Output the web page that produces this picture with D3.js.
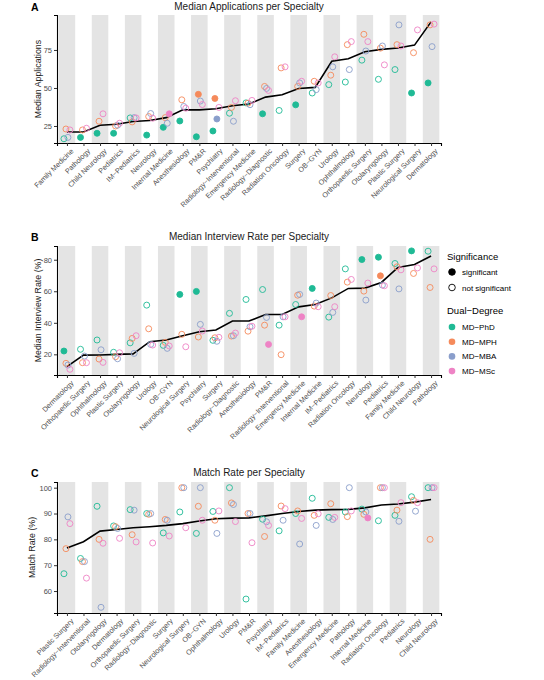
<!DOCTYPE html>
<html>
<head>
<meta charset="utf-8">
<script src="https://cdn.jsdelivr.net/npm/d3@7"></script>
<style>
	body { margin: 0; background: #fff; }
	text { font-family: "Liberation Sans", Arial, sans-serif; }
</style>
</head>
<body>
<svg id="chart" width="544" height="680"></svg>
<script>

const degrees = ["MD−PhD", "MD−MPH", "MD−MBA", "MD−MSc"];
const degreeColors = ["#1fba95", "#f58a5b", "#8a9ecb", "#ee83c5"];

// panel A - median applications
const appsCats = ["Family Medicine", "Pathology", "Child Neurology", "Pediatrics", "IM−Pediatrics", "Neurology",
	"Internal Medicine", "Anesthesiology", "PM&R", "Psychiatry", "Radiology−Interventional", "Emergency Medicine",
	"Radiology−Diagnostic", "Radiation Oncology", "Surgery", "OB−GYN", "Urology", "Ophthalmology",
	"Orthopaedic Surgery", "Otolaryngology", "Plastic Surgery", "Neurological Surgery", "Dermatology"];
const appsMedian = [21, 21, 25.5, 26.1, 27.9, 28.6, 30.5, 35.6, 35.6, 36.3, 38.3, 39.4, 44, 45.5, 49.7, 50.4,
	67.6, 69.2, 73.8, 75.4, 76.3, 78.2, 93.5];
const appsPhD = [16.6, 17.5, 20.2, 20.2, 30.3, 19.0, 24.1, 28.3, 17.9, 21.7, 33.4, 40.2, 33.0, 35.2, 38.9, 46.7,
	52.2, 53.9, 68.3, 55.7, 62.1, 46.7, 53.3];
const appsMPH = [23.0, 22.4, 28.1, 25.0, 27.7, 31.2, 30.5, 42.2, 45.8, 43.1, 37.2, 40.0, 51.0, 63.2, 51.0, 54.4,
	58.4, 78.5, 85.3, 76.2, 78.5, 73.2, 91.5];
const appsMBA = [17.5, null, null, 25.5, 30.5, 33.2, 26.8, 37.8, 41.4, 29.6, 28.1, 39.0, 49.7, null, 53.3, 48.9,
	63.9, 62.1, 74.3, 77.6, 91.5, null, 77.2];
const appsMSc = [22.4, 23.5, 33.0, 26.8, 30.3, 30.1, 33.0, 36.7, 39.1, 37.2, 41.6, 41.8, 48.4, 63.9, 54.4, 53.3,
	70.5, 80.5, 80.5, 65.2, 77.6, 88.2, 92.0];
const appsSignificant = [
	["Pathology", "MD−PhD"], ["Child Neurology", "MD−PhD"], ["Pediatrics", "MD−PhD"], ["Neurology", "MD−PhD"],
	["Internal Medicine", "MD−PhD"], ["Internal Medicine", "MD−MSc"], ["Anesthesiology", "MD−PhD"],
	["PM&R", "MD−PhD"], ["PM&R", "MD−MPH"], ["Psychiatry", "MD−PhD"], ["Psychiatry", "MD−MPH"],
	["Psychiatry", "MD−MBA"], ["Radiology−Diagnostic", "MD−PhD"], ["Surgery", "MD−PhD"],
	["Neurological Surgery", "MD−PhD"], ["Dermatology", "MD−PhD"]];
const appsTicks = [25, 50, 75];

// panel B - median interview rate
const intCats = ["Dermatology", "Orthopaedic Surgery", "Ophthalmology", "Plastic Surgery", "Otolaryngology",
	"Urology", "OB−GYN", "Neurological Surgery", "Psychiatry", "Surgery", "Radiology−Diagnostic", "Anesthesiology",
	"PM&R", "Radiology−Interventional", "Emergency Medicine", "Internal Medicine", "IM−Pediatrics",
	"Radiation Oncology", "Neurology", "Pediatrics", "Family Medicine", "Child Neurology", "Pathology"];
const intMedian = [12.2, 19.5, 19.6, 20.0, 20.3, 28.0, 29.1, 31.8, 34.3, 35.4, 41.1, 41.1, 45.3, 45.3, 50.1, 51.6,
	55.8, 61.8, 62.0, 65.6, 75.1, 77.0, 82.4];
const intPhD = [22.1, 23.2, 29.1, 21.3, 27.3, 51.2, 25.7, 58.0, 59.9, 28.9, 46.0, 54.8, 61.1, 38.5, 51.6, 61.8,
	43.6, 74.2, 80.1, 81.6, 77.6, 85.6, 85.4];
const intMPH = [14.3, 14.7, 17.0, 18.5, 30.1, 36.2, 27.6, 32.7, 31.0, 30.5, 31.6, 34.7, 38.5, 19.8, 57.5, 50.6,
	57.3, 65.8, 60.1, 69.8, 75.5, 71.3, 62.4];
const intMBA = [13.2, 18.9, 22.9, 17.2, 20.6, 26.3, 23.8, null, 39.0, 28.3, 31.8, 37.5, 43.4, 43.8, 58.0, 52.5,
	46.6, null, 54.4, 63.9, 61.5, null, null];
const intMSc = [10.5, 14.7, 14.9, 21.0, 31.8, 25.9, 25.3, 24.8, 34.8, 30.8, 33.5, 37.8, 26.3, 43.8, 43.8, 50.2,
	50.2, 67.5, 65.2, 63.5, 73.6, 74.8, 74.2];
const intSignificant = [
	["Dermatology", "MD−PhD"], ["Neurological Surgery", "MD−PhD"], ["Psychiatry", "MD−PhD"],
	["PM&R", "MD−MSc"], ["Emergency Medicine", "MD−MSc"], ["Internal Medicine", "MD−PhD"],
	["Neurology", "MD−PhD"], ["Pediatrics", "MD−PhD"], ["Pediatrics", "MD−MPH"], ["Child Neurology", "MD−PhD"]];
const intTicks = [20, 40, 60, 80];

// panel C - match rate
const matchCats = ["Plastic Surgery", "Radiology−Interventional", "Otolaryngology", "Dermatology",
	"Orthopaedic Surgery", "Radiology−Diagnostic", "Surgery", "Neurological Surgery", "OB−GYN", "Ophthalmology",
	"Urology", "PM&R", "Psychiatry", "IM−Pediatrics", "Family Medicine", "Anesthesiology", "Emergency Medicine",
	"Pathology", "Internal Medicine", "Radiation Oncology", "Pediatrics", "Neurology", "Child Neurology"];
const matchMedian = [76.7, 79.1, 83.2, 83.8, 84.5, 84.9, 85.4, 86.1, 87.1, 88.0, 88.2, 88.3, 89.1, 90.0, 90.8,
	91.3, 91.5, 91.6, 92.2, 93.3, 93.7, 94.4, 95.4];
const matchPhD = [66.7, 72.6, 92.8, 85.2, 91.5, 90.0, 82.5, 90.6, 82.3, 90.8, 100, 56.9, 87.8, 83.3, 90.0, 95.9,
	88.5, 90.6, 91.7, 87.2, 89.3, 96.5, 100];
const matchMPH = [76.4, 71.4, 80.0, 84.9, 81.8, 89.7, 87.7, 100, 92.8, 87.4, 94.1, 90.0, 81.1, 92.9, 91.0, 89.3,
	93.8, 88.8, 89.7, 100, 91.3, 95.1, 80.0];
const matchMBA = [88.7, 71.4, 53.7, 84.2, 91.3, 90.0, 87.4, 100, 100, 82.3, 93.5, 90.0, 86.8, 87.4, 78.2, 85.4,
	87.7, 100, 90.6, 100, 87.0, 90.9, 100];
const matchMSc = [86.1, 65.0, 78.5, 80.4, 79.0, 78.6, 81.3, 84.5, 87.4, 91.0, 86.9, 78.7, 85.4, 91.9, 88.1, 89.9,
	88.5, 91.0, 88.3, 100, 94.2, 94.2, 100];
const matchSignificant = [["Internal Medicine", "MD−MSc"]];
const matchTicks = [60, 70, 80, 90, 100];


const svg = d3.select("#chart");
const xRange = [57, 441];
const dodge = [-0.18, -0.06, 0.06, 0.18];

function drawPanel (cfg) {

	const g = svg.append("g");
	const x = d3.scalePoint().domain(cfg.cats).range(xRange).padding(0.6);
	const step = x.step();
	const y = d3.scaleLinear().domain(cfg.yDomain).range([cfg.bottom, cfg.top]);

	// alternating grey bands
	g.selectAll(".band")
		.data(cfg.cats.filter((d, i) => i % 2 === 0))
		.enter()
		.append("rect")
		.attr("x", d => x(d) - step / 2)
		.attr("width", step)
		.attr("y", cfg.top)
		.attr("height", cfg.bottom - cfg.top)
		.attr("fill", "#e4e4e4");

	// axes
	const yAxis = g.append("g")
		.attr("transform", `translate(${xRange[0]},0)`)
		.call(d3.axisLeft(y).tickValues(cfg.ticks).tickSizeOuter(0).tickSize(3).tickPadding(2));
	yAxis.selectAll("text").attr("font-size", 7.5).attr("fill", "#4d4d4d");

	const xAxis = g.append("g")
		.attr("transform", `translate(0,${cfg.bottom})`)
		.call(d3.axisBottom(x).tickSizeOuter(0).tickSize(3));
	xAxis.selectAll("text")
		.attr("x", null).attr("y", null).attr("dy", "0.7em")
		.attr("transform", "translate(3,5) rotate(-45)")
		.attr("text-anchor", "end")
		.attr("font-size", 7.2)
		.attr("fill", "#4d4d4d");
	[yAxis, xAxis].forEach(a => {
		a.select(".domain").attr("stroke", "#000").attr("stroke-width", 1.1);
		a.selectAll(".tick line").attr("stroke", "#333");
	});

	// median line
	g.append("path")
		.datum(cfg.median)
		.attr("d", d3.line().x((d, i) => x(cfg.cats[i])).y(d => y(d)))
		.attr("fill", "none")
		.attr("stroke", "black")
		.attr("stroke-width", 1.6);

	// points per dual degree
	const sigSet = new Set(cfg.sig.map(s => s[0] + "|" + s[1]));
	cfg.series.forEach((vals, k) => {
		const pts = vals.map((v, i) => ({cat: cfg.cats[i], v: v})).filter(p => p.v !== null);
		g.selectAll(".pt" + k)
			.data(pts)
			.enter()
			.append("circle")
			.attr("cx", d => x(d.cat) + dodge[k] * step)
			.attr("cy", d => y(d.v))
			.attr("r", 3)
			.attr("fill", d => sigSet.has(d.cat + "|" + degrees[k]) ? degreeColors[k] : "none")
			.attr("stroke", degreeColors[k])
			.attr("stroke-width", 0.9);
	});

	// titles
	g.append("text")
		.attr("x", (xRange[0] + xRange[1]) / 2)
		.attr("y", cfg.titleY)
		.attr("text-anchor", "middle")
		.attr("font-size", 10)
		.attr("fill", "#1a1a1a")
		.text(cfg.title);
	g.append("text")
		.attr("x", 31)
		.attr("y", cfg.titleY + 1)
		.attr("font-size", 10.5)
		.attr("font-weight", "bold")
		.text(cfg.letter);
	g.append("text")
		.attr("transform", `translate(${cfg.yTitleX},${(cfg.top + cfg.bottom) / 2}) rotate(-90)`)
		.attr("text-anchor", "middle")
		.attr("font-size", 8.8)
		.attr("fill", "#1a1a1a")
		.text(cfg.yTitle);
}

drawPanel({
	cats: appsCats, median: appsMedian, series: [appsPhD, appsMPH, appsMBA, appsMSc], sig: appsSignificant,
	ticks: appsTicks, yDomain: [13.8, 98], top: 15, bottom: 143, titleY: 10, letter: "A",
	title: "Median Applications per Specialty", yTitle: "Median Applications", yTitleX: 41
});
drawPanel({
	cats: intCats, median: intMedian, series: [intPhD, intMPH, intMBA, intMSc], sig: intSignificant,
	ticks: intTicks, yDomain: [6.9, 88.7], top: 246, bottom: 375, titleY: 240, letter: "B",
	title: "Median Interview Rate per Specialty", yTitle: "Median Interview Rate (%)", yTitleX: 41
});
drawPanel({
	cats: matchCats, median: matchMedian, series: [matchPhD, matchMPH, matchMBA, matchMSc], sig: matchSignificant,
	ticks: matchTicks, yDomain: [51.5, 102.2], top: 482, bottom: 613, titleY: 476, letter: "C",
	title: "Match Rate per Specialty", yTitle: "Match Rate (%)", yTitleX: 35
});

// legend
const legend = svg.append("g");
legend.append("text").attr("x", 447).attr("y", 260).attr("font-size", 9.5).text("Significance");
[["significant", "black"], ["not significant", "none"]].forEach((d, i) => {
	legend.append("circle").attr("cx", 452).attr("cy", 272 + i * 15.5).attr("r", 3.3)
		.attr("fill", d[1]).attr("stroke", "black").attr("stroke-width", 0.9);
	legend.append("text").attr("x", 462).attr("y", 275 + i * 15.5).attr("font-size", 8).text(d[0]);
});
legend.append("text").attr("x", 447).attr("y", 314).attr("font-size", 9.5).text("Dual−Degree");
degrees.forEach((d, i) => {
	legend.append("circle").attr("cx", 452).attr("cy", 327 + i * 14.7).attr("r", 3.3)
		.attr("fill", degreeColors[i]);
	legend.append("text").attr("x", 462).attr("y", 330 + i * 14.7).attr("font-size", 8).text(d);
});

</script>
</body>
</html>
